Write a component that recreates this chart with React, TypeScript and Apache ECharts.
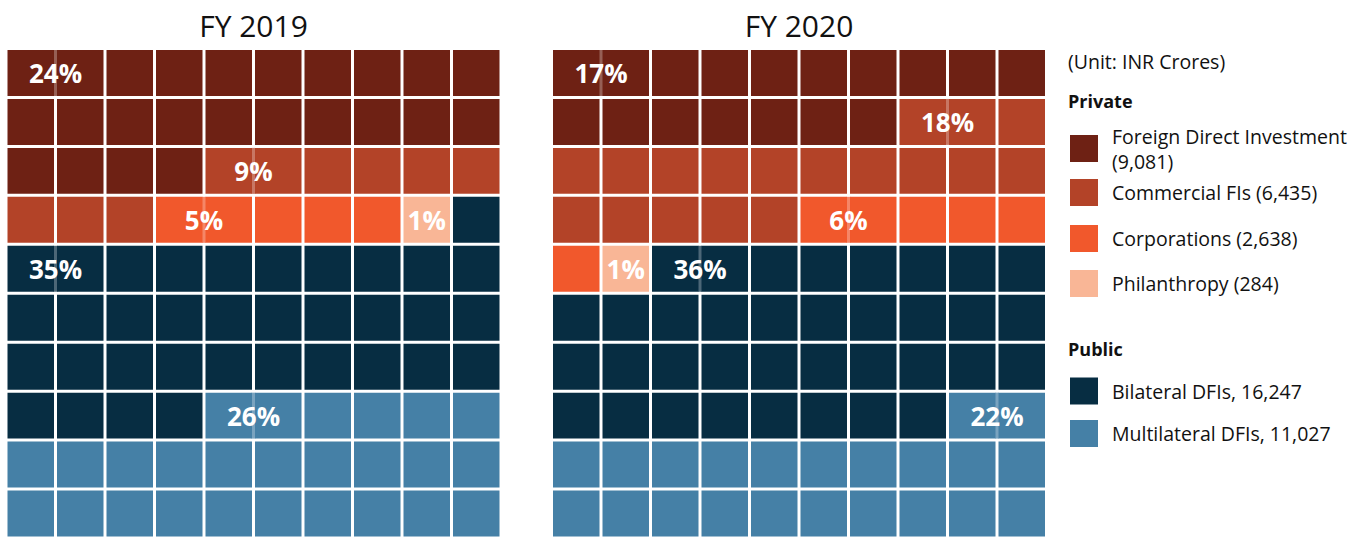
import React, { useEffect, useRef } from "react";
import * as echarts from "echarts";

const categories = ["Foreign Direct Investment", "Commercial FIs", "Corporations", "Philanthropy", "Bilateral DFIs", "Multilateral DFIs"];
const amounts = ["9,081", "6,435", "2,638", "284", "16,247", "11,027"];
const sectors = ["Private", "Private", "Private", "Private", "Public", "Public"];
const years = ["FY 2019", "FY 2020"];
const share2019 = [24, 9, 5, 1, 35, 26];
const share2020 = [17, 18, 6, 1, 36, 22];
const unitNote = "(Unit: INR Crores)";

const colors = ["#6e2114", "#b34328", "#f1582c", "#f9b696", "#072d42", "#4580a6"];
const FONT = '"Open Sans", "Noto Sans", sans-serif';
const COLS = 10;
const GAP = 3;

function buildCells(shares: number[]) {
  const cells: number[][] = [];
  let idx = 0;
  shares.forEach((n, cat) => {
    for (let k = 0; k < n; k++) {
      cells.push([idx % COLS, Math.floor(idx / COLS), cat]);
      idx++;
    }
  });
  return cells;
}

function buildLabels(shares: number[]) {
  const labels: number[][] = [];
  let idx = 0;
  shares.forEach((n, cat) => {
    let col = idx % COLS;
    let row = Math.floor(idx / COLS);
    if (n === 1) {
      labels.push([col + 0.5, row + 0.5, cat, n, 0]);
    } else {
      if (col === COLS - 1) {
        col = 0;
        row += 1;
      }
      labels.push([col + 1, row + 0.5, cat, n, 1]);
    }
    idx += n;
  });
  return labels;
}

const cellRender = (params: any, api: any) => {
  const col = api.value(0);
  const row = api.value(1);
  const cat = api.value(2);
  const p = api.coord([col, row]);
  const s = api.size([1, 1]);
  return {
    type: "rect",
    shape: { x: p[0] + GAP / 2, y: p[1] + GAP / 2, width: s[0] - GAP, height: s[1] - GAP },
    style: { fill: colors[cat] },
  };
};

const labelRender = (params: any, api: any) => {
  const cat = api.value(2);
  const pct = api.value(3);
  const merged = api.value(4);
  const c = api.coord([api.value(0), api.value(1)]);
  const s = api.size([1, 1]);
  const children: any[] = [];
  if (merged) {
    children.push({
      type: "rect",
      shape: { x: c[0] - GAP / 2 - 0.5, y: c[1] - (s[1] - GAP) / 2, width: GAP + 1, height: s[1] - GAP },
      style: { fill: colors[cat], opacity: 0.72 },
    });
  }
  children.push({
    type: "text",
    x: c[0],
    y: c[1],
    style: {
      text: pct + "%",
      fill: "#ffffff",
      fontSize: 26,
      fontWeight: "bold",
      fontFamily: FONT,
      align: "center",
      verticalAlign: "middle",
    },
  });
  return { type: "group", children };
};

const GRID_TOP = 48.5;
const GRID_W = 495;
const GRID_H = 492;
const gridLefts = [6, 551.5];

export default function App() {
  const ref = useRef<HTMLDivElement>(null);
  useEffect(() => {
    if (!ref.current) return;
    const chart = echarts.init(ref.current, undefined, { renderer: "svg" });
    const shareSets = [share2019, share2020];

    const series: any[] = [];
    shareSets.forEach((shares, i) => {
      series.push({
        type: "custom",
        xAxisIndex: i,
        yAxisIndex: i,
        renderItem: cellRender,
        data: buildCells(shares),
        silent: true,
      });
      series.push({
        type: "custom",
        xAxisIndex: i,
        yAxisIndex: i,
        renderItem: labelRender,
        data: buildLabels(shares),
        silent: true,
        z: 5,
      });
    });

    const graphics: any[] = [];
    years.forEach((y, i) => {
      graphics.push({
        type: "text",
        x: gridLefts[i] + GRID_W / 2,
        y: 25,
        style: { text: y, fill: "#111111", fontSize: 30, fontFamily: FONT, align: "center", verticalAlign: "middle" },
      });
    });
    graphics.push({
      type: "text",
      x: 1068,
      y: 61,
      style: { text: unitNote, fill: "#111111", fontSize: 19.5, fontFamily: FONT, verticalAlign: "middle" },
    });
    const headerY: Record<string, number> = { Private: 100.5, Public: 349 };
    Object.keys(headerY).forEach((h) => {
      graphics.push({
        type: "text",
        x: 1068,
        y: headerY[h],
        style: { text: h, fill: "#111111", fontSize: 18, fontWeight: "bold", fontFamily: FONT, verticalAlign: "middle" },
      });
    });
    const swatchCenters = [148.5, 192.5, 238.5, 283.5, 391, 433.5];
    categories.forEach((name, i) => {
      const label =
        sectors[i] === "Private"
          ? `${name}${name.length > 20 ? "\n" : " "}(${amounts[i]})`
          : `${name}, ${amounts[i]}`;
      graphics.push({
        type: "rect",
        shape: { x: 1070, y: swatchCenters[i] - 13.5, width: 28, height: 27 },
        style: { fill: colors[i] },
      });
      graphics.push({
        type: "text",
        x: 1112,
        y: swatchCenters[i],
        style: {
          text: label,
          fill: "#111111",
          fontSize: 19.5,
          lineHeight: 25,
          fontFamily: FONT,
          verticalAlign: "middle",
        },
      });
    });

    chart.setOption({
      animation: false,
      backgroundColor: "#ffffff",
      grid: gridLefts.map((l) => ({ left: l, top: GRID_TOP, width: GRID_W, height: GRID_H })),
      xAxis: gridLefts.map((_, i) => ({ type: "value", min: 0, max: COLS, show: false, gridIndex: i })),
      yAxis: gridLefts.map((_, i) => ({ type: "value", min: 0, max: 10, inverse: true, show: false, gridIndex: i })),
      series,
      graphic: graphics,
    });
    return () => chart.dispose();
  }, []);
  return <div ref={ref} style={{ position: "absolute", left: 0, top: 0, width: 1369, height: 538 }} />;
}
